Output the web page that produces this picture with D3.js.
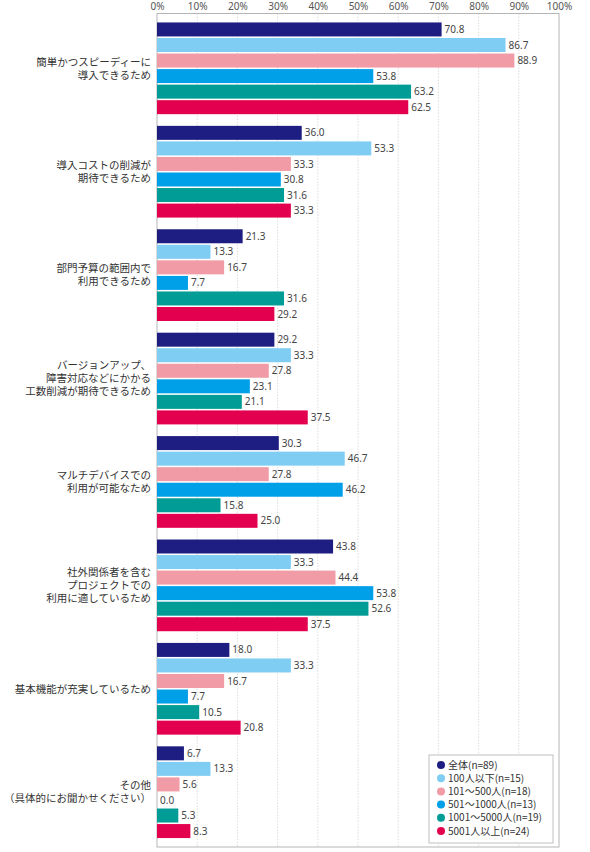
<!DOCTYPE html>
<html><head><meta charset="utf-8">
<script src="https://cdn.jsdelivr.net/npm/d3@7/dist/d3.min.js"></script>
<style>
body{margin:0;background:#fff;}
svg{display:block;font-family:"Noto Sans CJK JP","Noto Sans",sans-serif;}
</style></head><body>
<svg id="c" width="590" height="852"></svg>
<script>
const categories = [
  ["簡単かつスピーディーに","導入できるため"],
  ["導入コストの削減が","期待できるため"],
  ["部門予算の範囲内で","利用できるため"],
  ["バージョンアップ、","障害対応などにかかる","工数削減が期待できるため"],
  ["マルチデバイスでの","利用が可能なため"],
  ["社外関係者を含む","プロジェクトでの","利用に適しているため"],
  ["基本機能が充実しているため"],
  ["その他","（具体的にお聞かせください）"]
];
const seriesNames = ["全体(n=89)","100人以下(n=15)","101～500人(n=18)","501～1000人(n=13)","1001～5000人(n=19)","5001人以上(n=24)"];
const seriesColors = ["#1d1d82","#7fcdf3","#f09ba6","#00a0e8","#009c95","#e3004e"];
const all      = [70.8, 36.0, 21.3, 29.2, 30.3, 43.8, 18.0, 6.7];
const s100     = [86.7, 53.3, 13.3, 33.3, 46.7, 33.3, 33.3, 13.3];
const s500     = [88.9, 33.3, 16.7, 27.8, 27.8, 44.4, 16.7, 5.6];
const s1000    = [53.8, 30.8, 7.7, 23.1, 46.2, 53.8, 7.7, 0.0];
const s5000    = [63.2, 31.6, 31.6, 21.1, 15.8, 52.6, 10.5, 5.3];
const s5001    = [62.5, 33.3, 29.2, 37.5, 25.0, 37.5, 20.8, 8.3];
const series = [all, s100, s500, s1000, s5000, s5001];
const ticks = [0,10,20,30,40,50,60,70,80,90,100];

const svg = d3.select("#c");
const L = 157, R = 559, T = 13.5, B = 847;
const x = d3.scaleLinear().domain([0,100]).range([L,R]);
const y0 = d3.scaleBand().domain(d3.range(categories.length)).range([T,B]).paddingInner(0.104).paddingOuter(0.082);
const y1 = d3.scaleBand().domain(d3.range(series.length)).range([0,y0.bandwidth()]).paddingInner(0.1).paddingOuter(0.03);

// grid
svg.append("g").selectAll("line").data(ticks.slice(1,-1)).join("line")
  .attr("x1",d=>x(d)).attr("x2",d=>x(d)).attr("y1",T).attr("y2",B)
  .attr("stroke","#d4d4d4").attr("stroke-width",0.8).attr("stroke-dasharray","1.5,1.5");
// frame
svg.append("rect").attr("x",L).attr("y",T).attr("width",R-L).attr("height",B-T)
  .attr("fill","none").attr("stroke","#b5b5b5").attr("stroke-width",1);

// top axis labels
const ax = d3.axisTop(x).tickValues(ticks).tickFormat(d=>d+"%").tickSize(0).tickPadding(0);
const axg = svg.append("g").attr("transform",`translate(0,10)`).call(ax);
axg.select(".domain").remove();
axg.selectAll("text").attr("font-size",10).attr("fill","#555").attr("dy",0)
  .attr("font-family","'Noto Sans','DejaVu Sans',sans-serif");

// bars
const groups = svg.append("g").selectAll("g").data(categories).join("g")
  .attr("transform",(d,i)=>`translate(0,${y0(i)})`);
groups.each(function(cat,ci){
  const g = d3.select(this);
  series.forEach((s,si)=>{
    const v = s[ci];
    g.append("rect").attr("x",x(0)).attr("y",y1(si)).attr("width",x(v)-x(0)).attr("height",y1.bandwidth())
      .attr("fill",seriesColors[si]);
    g.append("text").attr("x",x(v)+3).attr("y",y1(si)+y1.bandwidth()/2).attr("dy","0.36em")
      .attr("font-size",10).attr("fill","#444").attr("font-family","'Noto Sans','DejaVu Sans',sans-serif")
      .text(v.toFixed(1));
  });
  const lh = 13;
  const n = cat.length;
  const cy = y0.bandwidth()/2;
  g.append("text").attr("text-anchor","end").attr("font-size",10.5).attr("fill","#333")
    .selectAll("tspan").data(cat).join("tspan")
    .attr("x",151).attr("y",(d,i)=>cy+(i-(n-1)/2)*lh).attr("dy","0.36em").text(d=>d);
});

// legend
const lg = svg.append("g");
lg.append("rect").attr("x",429).attr("y",755).attr("width",124).attr("height",88)
  .attr("fill","#fff").attr("stroke","#c0c0c0").attr("stroke-width",1);
seriesNames.forEach((nm,i)=>{
  const yy = 765 + i*13.2;
  lg.append("circle").attr("cx",441).attr("cy",yy).attr("r",4).attr("fill",seriesColors[i]);
  lg.append("text").attr("x",448).attr("y",yy).attr("dy","0.36em").attr("font-size",10)
    .attr("fill","#333").text(nm);
});
</script>
</body></html>
